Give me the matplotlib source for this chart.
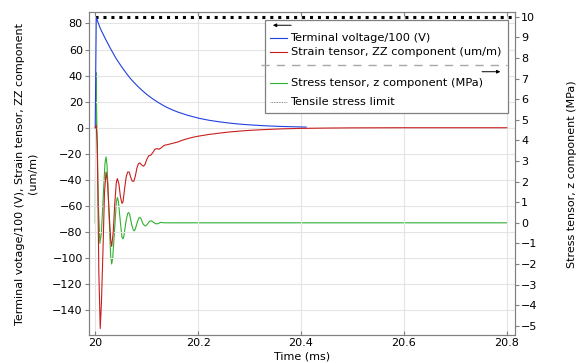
import matplotlib
matplotlib.use("Agg")
import matplotlib.pyplot as plt
from matplotlib.patches import Rectangle
from matplotlib.lines import Line2D

# --- data ---
# terminal voltage / 100 (V), left axis
t_volt = [20.0, 20.002, 20.01, 20.02, 20.03, 20.04, 20.05, 20.06, 20.07, 20.08,
          20.09, 20.10, 20.11, 20.12, 20.13, 20.14, 20.15, 20.16, 20.18, 20.20,
          20.22, 20.24, 20.26, 20.28, 20.30, 20.33, 20.36, 20.41]
volt = [0, 84.5, 76, 68, 60.5, 53.5, 47.5, 42, 37, 32.8,
        29, 25.6, 22.6, 20, 17.6, 15.5, 13.7, 12.1, 9.5, 7.4,
        5.8, 4.6, 3.6, 2.8, 2.2, 1.5, 1.0, 0.5]

# strain tensor ZZ (um/m), left axis
t_strain = [20.0, 20.002, 20.004, 20.007, 20.0097, 20.012, 20.015, 20.018, 20.021,
            20.024, 20.027, 20.030, 20.032, 20.035, 20.038, 20.041, 20.043, 20.046,
            20.049, 20.052, 20.054, 20.057, 20.060, 20.063, 20.066, 20.069, 20.072,
            20.075, 20.078, 20.081, 20.084, 20.087, 20.090, 20.094, 20.097, 20.100,
            20.104, 20.108, 20.112, 20.116, 20.120, 20.124, 20.128, 20.134, 20.140,
            20.15, 20.16, 20.17, 20.18, 20.19, 20.2, 20.22, 20.24, 20.26, 20.28,
            20.3, 20.33, 20.36, 20.4, 20.45, 20.5, 20.6, 20.7, 20.8]
strain = [0, 2, -12, -110, -154, -135, -95, -50, -34,
          -42, -65, -86, -91, -80, -58, -42, -39, -43,
          -53, -58, -57, -47, -38, -34, -34, -38, -41,
          -41, -37, -31, -27.5, -27, -28.5, -29.5, -28, -24.5,
          -21.5, -21, -19, -16.5, -16, -16.5, -15.5, -13.5, -13,
          -12, -11, -9.5, -8.3, -7.3, -6.5, -5.2, -4.2, -3.3, -2.6,
          -2.0, -1.4, -0.9, -0.5, -0.25, -0.1, 0, 0, 0]

# stress tensor z (MPa), right axis
t_stress = [20.0, 20.0015, 20.003, 20.006, 20.009, 20.012, 20.016, 20.019, 20.021,
            20.023, 20.027, 20.030, 20.032, 20.034, 20.038, 20.041, 20.043, 20.045,
            20.049, 20.052, 20.054, 20.056, 20.060, 20.063, 20.065, 20.067, 20.071,
            20.074, 20.076, 20.078, 20.082, 20.085, 20.087, 20.089, 20.093, 20.096,
            20.098, 20.101, 20.105, 20.109, 20.113, 20.117, 20.121, 20.127, 20.135, 20.8]
stress = [0, 7.3, 5.0, 1.0, -1.0, -0.5, 1.5, 2.9, 3.2,
          2.8, 0.3, -1.6, -2.0, -1.7, -0.2, 1.0, 1.23, 1.05,
          0, -0.7, -0.78, -0.6, 0.1, 0.45, 0.5, 0.4, -0.1,
          -0.35, -0.39, -0.3, 0.05, 0.24, 0.26, 0.2, -0.05, -0.14,
          -0.15, -0.08, 0.06, 0.1, 0.03, -0.04, -0.05, 0.02, 0, 0]

# tensile stress limit (MPa), right axis
t_limit = [20.0, 20.81]
limit = [10, 10]

x_ticks = [20.0, 20.2, 20.4, 20.6, 20.8]
x_labels = ["20", "20.2", "20.4", "20.6", "20.8"]
left_ticks = list(range(-140, 81, 20))
right_ticks = list(range(-5, 11))

BLUE = "#2040e0"
RED = "#c81e1e"
GREEN = "#30b030"
FRAME = "#808080"

plt.rcParams["font.family"] = "DejaVu Sans"
plt.rcParams["font.size"] = 8

fig = plt.figure(figsize=(5.82, 3.63), dpi=100)
ax = fig.add_axes([0.153, 0.077, 0.732, 0.889])
ax2 = ax.twinx()

ax2.plot(t_stress, stress, color=GREEN, lw=0.8, zorder=2)
ax2.plot(t_limit, limit, color="black", lw=2.2, ls=(0, (1, 1.6)), zorder=2)
ax.plot(t_volt, volt, color=BLUE, lw=0.8)
ax.plot(t_strain, strain, color=RED, lw=0.8)
# left-axis curves (and legend) sit above the green one
ax.set_zorder(ax2.get_zorder() + 1)
ax.patch.set_visible(False)

ax.set_xlim(19.988, 20.816)
ax.set_ylim(-159, 88.5)
ax2.set_ylim(-5.45, 10.22)

ax.set_xticks(x_ticks)
ax.set_xticklabels(x_labels)
ax.set_yticks(left_ticks)
ax2.set_yticks(right_ticks)

ax.grid(True, color="#e4e4e4", lw=0.8)
ax.set_axisbelow(True)

for a in (ax, ax2):
    for s in a.spines.values():
        s.set_color(FRAME)
        s.set_linewidth(0.8)
ax.tick_params(axis="x", direction="in", top=True, length=3, color=FRAME, pad=2)
ax.tick_params(axis="y", direction="out", length=3, color=FRAME, pad=1.5)
ax2.tick_params(axis="y", direction="out", length=3, color=FRAME, pad=1.5)

ax.set_xlabel("Time (ms)", labelpad=0)
ax.xaxis.set_label_coords(0.5, -0.05)
ax.set_ylabel("Terminal votage/100 (V), Strain tensor, ZZ component\n(um/m)",
              ha="center", linespacing=1.2)
ax.yaxis.set_label_coords(-0.122, 0.5)
ax2.set_ylabel("Stress tensor, z component (MPa)")
ax2.yaxis.set_label_coords(1.122, 0.5)

# --- legend drawn by hand (COMSOL style, with axis arrows) ---
tr = ax.transAxes
x0, x1, y0, y1 = 0.413, 0.984, 0.688, 0.977
ax.add_patch(Rectangle((x0, y0), x1 - x0, y1 - y0, transform=tr, facecolor="white",
                       edgecolor=FRAME, lw=0.9, zorder=5))
rows = [0.960, 0.922, 0.876, 0.838, 0.816, 0.780, 0.722]
ax.annotate("", xy=(x0 + 0.012, rows[0]), xytext=(x0 + 0.068, rows[0]), xycoords=tr,
            arrowprops=dict(arrowstyle="-|>", color="black", lw=0.7,
                            mutation_scale=5), zorder=6)
entries = [(rows[1], BLUE, "-", 0.8, "Terminal voltage/100 (V)"),
           (rows[2], RED, "-", 0.8, "Strain tensor, ZZ component (um/m)"),
           (rows[5], GREEN, "-", 0.8, "Stress tensor, z component (MPa)"),
           (rows[6], "#666666", (0, (1, 1)), 0.6, "Tensile stress limit")]
for y, c, ls, lw, lab in entries:
    ax.add_line(Line2D([x0 + 0.012, x0 + 0.052], [y, y], transform=tr, color=c,
                       ls=ls, lw=lw, zorder=6))
    ax.text(x0 + 0.060, y, lab, transform=tr, va="center", ha="left",
            fontsize=8.2, zorder=6)
ax.add_line(Line2D([x0 - 0.01, x1 - 0.004], [rows[3], rows[3]], transform=tr,
                   color="#a8a8a8", ls=(0, (6, 5)), lw=1.0, zorder=6))
ax.annotate("", xy=(x1 - 0.012, rows[4]), xytext=(x1 - 0.068, rows[4]), xycoords=tr,
            arrowprops=dict(arrowstyle="-|>", color="black", lw=0.7,
                            mutation_scale=5), zorder=6)

fig.savefig("out.png", dpi=100)
